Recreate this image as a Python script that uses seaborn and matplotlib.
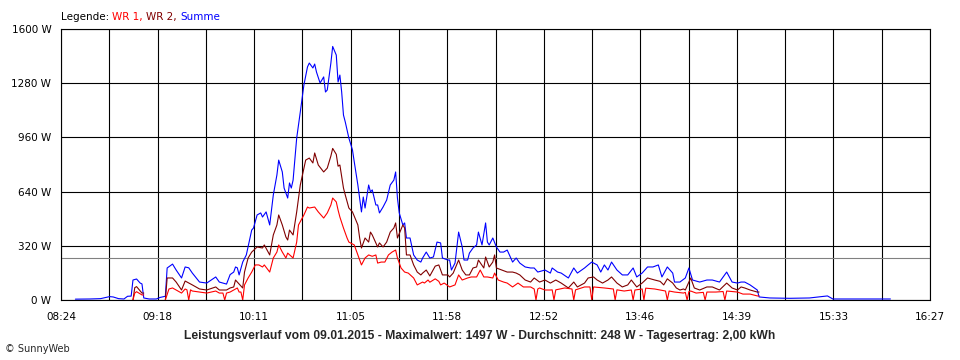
import numpy as np
import pandas as pd
import seaborn as sns
import matplotlib.pyplot as plt

sns.set_theme(style="white")
plt.rcParams['font.family'] = ['DejaVu Sans']

# x axis: minutes after 08:24, 18 grid steps up to 16:27
day_len = 483
tick_labels = ["08:24", "09:18", "10:11", "11:05", "11:58",
               "12:52", "13:46", "14:39", "15:33", "16:27"]
y_ticks = [0, 320, 640, 960, 1280, 1600]
avg_w = 248

# Summe
t_sum = [8, 16, 22, 27, 29, 32, 35, 37, 39, 40,
         42, 44, 45, 46, 49, 53, 55, 58, 59, 62,
         64, 67, 69, 71, 73, 77, 81, 86, 88, 92,
         94, 96, 97, 98, 99, 101, 103, 106, 107, 109,
         111, 112, 114, 116, 118, 120, 121, 123, 124, 126,
         127, 128, 129, 131, 133, 135, 137, 138, 140, 141,
         142, 144, 146, 147, 148, 150, 151, 153, 154, 155,
         156, 157, 158, 160, 162, 163, 165, 167, 168, 169,
         171, 172, 173, 175, 176, 177, 179, 181, 183, 185,
         186, 187, 188, 190, 191, 192, 194, 196, 198, 200,
         201, 203, 205, 207, 209, 211, 212, 215, 216, 217,
         219, 221, 223, 224, 226, 227, 229, 231, 232, 234,
         236, 237, 238, 240, 242, 244, 246, 248, 251, 253,
         255, 258, 261, 263, 265, 269, 272, 273, 276, 278,
         282, 285, 287, 291, 293, 295, 298, 300, 302, 304,
         306, 309, 312, 315, 318, 320, 323, 326, 329, 332,
         334, 337, 340, 341, 344, 347, 349, 351, 355, 359,
         362, 366, 370, 373, 376, 378, 380, 383, 387, 388,
         394, 405, 416, 426, 429, 444, 461]
p_sum = [5, 6, 8, 20, 18, 8, 6, 22, 23, 118,
         124, 100, 95, 12, 6, 6, 15, 22, 189, 212,
         177, 130, 195, 190, 159, 106, 100, 136, 106, 94,
         150, 165, 195, 190, 148, 224, 266, 413, 425, 502,
         514, 490, 520, 443, 620, 738, 826, 756, 661, 602,
         691, 661, 708, 956, 1110, 1269, 1376, 1399, 1370, 1393,
         1346, 1281, 1317, 1228, 1240, 1399, 1497, 1446, 1287, 1328,
         1228, 1092, 1051, 956, 886, 815, 679, 520, 608, 543,
         679, 638, 650, 561, 561, 514, 549, 590, 679, 708,
         756, 602, 514, 443, 455, 366, 366, 266, 236, 224,
         248, 283, 248, 254, 342, 337, 248, 236, 236, 177,
         218, 401, 313, 236, 236, 277, 307, 325, 401, 325,
         455, 342, 325, 366, 313, 283, 283, 295, 224, 248,
         218, 195, 189, 189, 165, 177, 159, 189, 165, 159,
         130, 189, 159, 189, 207, 224, 207, 165, 207, 177,
         224, 177, 148, 148, 189, 136, 159, 195, 195, 207,
         136, 195, 159, 106, 106, 130, 189, 118, 106, 118,
         118, 106, 165, 106, 100, 106, 106, 89, 59, 18,
         12, 10, 12, 24, 6, 6, 6]

# WR 2 (nan = inverter off)
t_wr2 = [40, 41, 42, 45, 46, 47, 58, 59, 62, 64,
         67, 69, 73, 77, 81, 86, 88, 92, 94, 96,
         97, 98, 101, 102, 104, 106, 109, 112, 113, 116,
         118, 120, 121, 123, 125, 126, 127, 129, 131, 133,
         135, 136, 138, 140, 141, 143, 146, 148, 150, 151,
         153, 154, 155, 157, 158, 160, 162, 165, 166, 167,
         169, 171, 172, 173, 176, 177, 179, 181, 183, 185,
         186, 187, 190, 191, 192, 194, 196, 198, 200, 201,
         203, 205, 208, 210, 212, 215, 216, 218, 221, 223,
         225, 227, 229, 231, 232, 235, 236, 238, 240, 241,
         242, 245, 248, 251, 253, 255, 258, 261, 263, 266,
         269, 272, 275, 278, 282, 285, 287, 291, 293, 296,
         298, 301, 304, 306, 309, 312, 315, 317, 320, 323,
         326, 330, 333, 335, 337, 340, 342, 344, 346, 347,
         350, 352, 355, 359, 362, 366, 370, 373, 376, 378,
         380, 383, 387, 388]
p_wr2 = [0, 73, 79, 41, 41, np.nan, 0, 130, 130, 106,
         59, 112, 89, 65, 59, 77, 59, 59, 71, 77,
         118, 106, 71, 165, 248, 283, 313, 307, 325, 266,
         384, 443, 502, 443, 372, 354, 413, 384, 520, 679,
         779, 826, 838, 809, 868, 797, 756, 779, 850, 895,
         860, 790, 797, 661, 620, 543, 520, 443, 366, 307,
         366, 342, 401, 384, 313, 337, 313, 342, 401, 425,
         455, 366, 443, 425, 266, 266, 207, 165, 148, 159,
         177, 142, 200, 207, 148, 148, 136, 159, 236, 177,
         148, 148, 189, 195, 236, 189, 254, 195, 224, 266,
         189, 177, 165, 165, 159, 148, 118, 106, 130, 106,
         118, 100, 118, 100, 71, 106, 77, 100, 130, 136,
         118, 100, 118, 136, 100, 77, 89, 118, 77, 100,
         130, 118, 110, 89, 125, 100, 71, 59, 65, 59,
         130, 71, 59, 77, 77, 59, 100, 71, 59, 77,
         71, 59, 47, 47]

# WR 1
t_wr1 = [40, 41, 42, 45, 46, 47, 58, 60, 62, 64,
         67, 69, 70, 71, 72, 73, 77, 81, 86, 88,
         90, 91, 92, 94, 96, 98, 99, 100, 101, 102,
         104, 106, 108, 110, 112, 113, 116, 118, 120, 121,
         123, 125, 126, 129, 131, 132, 135, 137, 138, 141,
         143, 146, 148, 150, 151, 153, 154, 155, 157, 159,
         160, 163, 165, 167, 169, 171, 173, 175, 176, 178,
         180, 182, 184, 186, 187, 189, 191, 193, 196, 198,
         201, 202, 204, 205, 208, 210, 211, 213, 216, 219,
         221, 223, 226, 228, 231, 233, 235, 237, 240, 241,
         243, 246, 248, 251, 254, 257, 261, 263, 264, 265,
         266, 269, 272, 273, 274, 275, 280, 284, 285, 286,
         291, 294, 295, 296, 302, 307, 308, 309, 313, 317,
         318, 319, 323, 324, 325, 330, 336, 337, 338, 341,
         346, 347, 348, 349, 350, 353, 357, 358, 359, 364,
         368, 369, 370, 376, 379, 383, 387, 388]
p_wr1 = [0, 41, 49, 30, 30, np.nan, 0, 65, 71, 59,
         41, 65, 60, 0, 60, 53, 47, 41, 53, 41,
         41, 0, 41, 47, 59, 71, 47, 47, 0, 89,
         130, 165, 207, 207, 195, 207, 165, 248, 283, 325,
         283, 248, 277, 248, 342, 443, 502, 549, 543, 549,
         520, 484, 514, 561, 602, 579, 531, 490, 425, 366,
         342, 325, 266, 207, 248, 266, 258, 266, 218, 224,
         224, 266, 283, 295, 248, 189, 165, 159, 130, 89,
         106, 100, 118, 105, 125, 110, 89, 100, 77, 89,
         148, 118, 130, 136, 136, 177, 136, 136, 130, 159,
         118, 106, 100, 77, 100, 77, 77, 65, 0, 65,
         71, 59, 59, 60, 0, 60, 71, 65, 0, 60,
         77, 77, 0, 77, 71, 65, 0, 60, 53, 59,
         0, 59, 65, 0, 70, 65, 53, 0, 53, 47,
         41, 45, 0, 50, 53, 41, 45, 0, 47, 47,
         50, 0, 53, 47, 35, 35, 24, 24]

colors = {"Summe": "#0000FF", "WR 2": "#800000", "WR 1": "#FF0000"}

# long table, one unit per unbroken segment
frames = []
for name, t, w in [("Summe", t_sum, p_sum), ("WR 2", t_wr2, p_wr2), ("WR 1", t_wr1, p_wr1)]:
    d = pd.DataFrame({"t": t, "w": w})
    d["seg"] = d["w"].isna().cumsum()
    d["serie"] = name
    frames.append(d.dropna())
df = pd.concat(frames, ignore_index=True)
df["unit"] = df["serie"] + "_" + df["seg"].astype(str)

fig = plt.figure(figsize=(9.6, 3.6), dpi=100)
ax = fig.add_axes([61 / 960, 60 / 360, 869 / 960, 271 / 360])

x_grid = np.linspace(0, day_len, 19)
ax.set_xticks(x_grid)
ax.set_xticklabels([tick_labels[i // 2] if i % 2 == 0 else "" for i in range(19)])
ax.set_yticks(y_ticks)
ax.set_yticklabels([f"{v} W" for v in y_ticks])
ax.set_xlim(0, day_len)
ax.set_ylim(0, 1600)
ax.grid(True, color="black", lw=0.8)
ax.set_axisbelow(True)
for s in ax.spines.values():
    s.set_color("black")
    s.set_linewidth(0.8)
ax.tick_params(axis="both", direction="out", length=4, width=0.8, color="black",
               labelcolor="black", labelsize=7.5)
ax.tick_params(axis="x", pad=5)
ax.tick_params(axis="y", pad=3)

ax.axhline(avg_w, color="#808080", lw=0.8, zorder=1.5)

sns.lineplot(data=df, x="t", y="w", hue="serie", units="unit", estimator=None,
             sort=False, hue_order=["Summe", "WR 2", "WR 1"], palette=colors,
             lw=0.8, legend=False, ax=ax)
ax.set_xlabel("")
ax.set_ylabel("")

# coloured legend line at top
fig.canvas.draw()
r = fig.canvas.get_renderer()
x = 61 / 960
for s, c in [("Legende: ", "black"), ("WR 1, ", colors["WR 1"]),
             ("WR 2, ", colors["WR 2"]), ("Summe", colors["Summe"])]:
    txt = fig.text(x, 1 - 17 / 360, s, color=c, fontsize=7.5, va="center")
    x += txt.get_window_extent(renderer=r).width / fig.bbox.width

fig.text(0.5, 1 - 336 / 360,
         "Leistungsverlauf vom 09.01.2015 - Maximalwert: 1497 W - Durchschnitt: 248 W - Tagesertrag: 2,00 kWh",
         ha="center", va="center", fontsize=8.7, fontweight="bold", family=["Liberation Sans"])
fig.text(5 / 960, 1 - 349 / 360, "© SunnyWeb", fontsize=7, va="center")

fig.savefig("out.png", dpi=100)
